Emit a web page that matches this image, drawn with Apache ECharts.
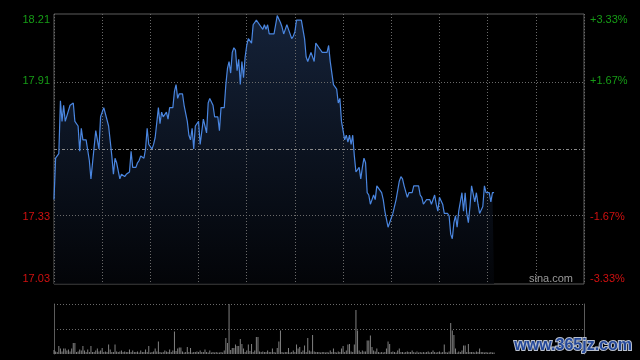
<!DOCTYPE html>
<html>
<head>
<meta charset="utf-8">
<script src="https://cdn.jsdelivr.net/npm/echarts@6/dist/echarts.min.js"></script>
<style>
html,body{margin:0;padding:0;background:#000;}
#c{width:640px;height:360px;}
</style>
</head>
<body>
<div id="c"></div>
<script>
// ---- data (minutes from open, HK session 330 minutes) ----
const prevClose = 17.62;
const tickPct = [0.0333, 0.01667, 0, -0.01667, -0.0333];
const leftTickLabels = ['18.21', '17.91', '', '17.33', '17.03'];
const rightTickLabels = ['+3.33%', '+1.67%', '', '-1.67%', '-3.33%'];

const priceTimes = [
  0,1,2,3,4,5,6,7,8,10,12,13,15,16,17,18,20,22,23,25,26,28,29,31,32,34,36,37,38,39,
  41,42,44,45,47,48,49,51,52,53,54,56,57,58,59,60,61,62,63,64,65,66,67,68,69,70,71,72,74,75,
  76,77,78,80,81,83,84,85,86,87,88,90,91,92,93,94,95,96,97,99,100,102,103,104,106,107,108,109,110,111,
  112,113,114,115,116,117,118,119,120,121,122,123,124,126,128,129,130,131,132,133,134,137,138,139,141,142,143,144,145,146,
  147,148,149,150,151,154,156,157,158,159,160,161,162,163,164,165,167,170,171,172,174,175,176,177,178,179,180,181,182,183,
  184,185,186,187,188,189,190,191,192,193,194,195,196,197,198,199,200,201,202,203,204,205,206,208,209,210,211,212,213,215,
  216,217,218,220,221,223,224,227,228,229,230,232,234,235,237,238,239,240,241,242,243,245,246,247,248,249,250,251,252,253,
  254,255,256,257,258,259,260,261,262,263,264,265,266,267,268,269,271,272,273,274
];
const prices = [
  17.40,17.58,17.59,17.60,17.83,17.74,17.81,17.74,17.74,17.81,17.82,17.74,17.72,17.61,17.71,17.66,17.66,17.57,17.49,17.63,17.70,17.62,17.76,17.80,17.80,17.72,17.59,17.51,17.58,17.56,
  17.49,17.51,17.50,17.51,17.52,17.61,17.54,17.54,17.56,17.57,17.59,17.58,17.62,17.71,17.64,17.64,17.62,17.64,17.67,17.67,17.80,17.73,17.78,17.76,17.76,17.78,17.75,17.80,17.80,17.87,
  17.90,17.84,17.86,17.86,17.81,17.74,17.68,17.66,17.71,17.62,17.72,17.74,17.64,17.64,17.75,17.72,17.69,17.82,17.84,17.81,17.76,17.76,17.70,17.80,17.80,17.90,17.97,18.00,17.95,18.04,
  18.06,18.05,17.96,18.01,17.90,18.00,17.93,18.02,18.07,18.10,18.10,18.08,18.16,18.18,18.16,18.16,18.14,18.16,18.14,18.16,18.12,18.12,18.16,18.20,18.17,18.15,18.12,18.14,18.16,18.14,
  18.14,18.10,18.11,18.13,18.18,18.18,18.10,18.02,18.00,18.00,18.04,18.04,18.00,18.08,18.07,18.06,18.04,18.04,18.07,18.00,17.90,17.89,17.88,17.82,17.84,17.74,17.74,17.66,17.68,17.65,
  17.68,17.64,17.68,17.59,17.52,17.52,17.54,17.49,17.54,17.58,17.56,17.43,17.42,17.38,17.40,17.42,17.40,17.46,17.46,17.44,17.43,17.40,17.35,17.28,17.28,17.32,17.34,17.34,17.40,17.48,
  17.50,17.49,17.46,17.41,17.43,17.43,17.46,17.46,17.42,17.41,17.38,17.40,17.40,17.38,17.42,17.38,17.35,17.41,17.41,17.38,17.34,17.34,17.33,17.25,17.23,17.30,17.33,17.28,17.35,17.35,
  17.43,17.35,17.43,17.34,17.30,17.37,17.46,17.46,17.39,17.43,17.38,17.34,17.34,17.37,17.46,17.43,17.43,17.39,17.43,17.43
];

// volume per minute (0..274), relative units, panel top = 100
const volumes = [
  8,5,4,16,11,5,11,11,7,9,
  5,11,22,22,4,5,9,7,16,7,
  4,9,4,16,4,4,7,11,5,7,
  12,4,5,4,19,9,4,4,19,5,
  4,5,7,4,5,4,4,9,4,7,
  4,4,5,3,7,4,4,9,4,16,
  3,4,5,11,5,25,4,3,4,7,
  5,4,9,4,7,45,6,11,13,13,
  5,3,4,14,4,12,3,4,4,5,
  4,7,4,4,9,4,3,7,3,4,
  3,4,3,3,4,3,7,32,22,100,
  8,12,12,19,16,16,30,20,11,4,
  7,19,6,20,4,7,34,34,5,4,
  5,4,4,7,4,4,11,4,3,12,
  25,47,4,3,4,4,12,3,4,7,
  4,19,11,14,4,7,17,4,32,7,
  5,38,5,4,4,4,3,4,4,3,
  4,3,7,4,11,4,3,5,4,11,
  16,4,7,19,20,5,4,19,88,47,
  7,4,7,5,5,27,27,37,14,7,
  5,11,4,3,4,3,4,11,25,20,
  4,5,4,3,7,11,4,4,3,4,
  5,4,4,7,4,3,5,3,4,3,
  4,3,4,5,3,4,7,4,3,4,
  5,3,4,19,4,3,5,62,47,38,
  11,3,5,4,7,17,17,4,20,4,
  4,4,3,5,4,11,4,4,3,4,
  3,3,4,3,3
];
const sessionMinutes = 330;
const volGridLevels = [50, 100];

// ---- build ----
const tickValues = tickPct.map(p => prevClose * (1 + p));
const yMin = Math.min.apply(null, tickValues);
const yMax = Math.max.apply(null, tickValues);
function tickIndex(v) {
  for (let i = 0; i < tickValues.length; i++) if (Math.abs(tickValues[i] - v) < 1e-6) return i;
  return -1;
}
const pricePairs = priceTimes.map((t, i) => [t, prices[i]]);
const volPairs = volumes.map((v, i) => [i, v]);
const GREEN = '#169c16', RED = '#d01010';
const GRIDC = '#6a6a6a', BORDER = '#5c5c5c';
const labelColor = v => (v > prevClose + 1e-6 ? GREEN : RED);

const chart = echarts.init(document.getElementById('c'), null, {renderer: 'canvas'});
chart.setOption({
  backgroundColor: '#000',
  animation: false,
  grid: [
    {left: 54, right: 56, top: 14, height: 270, show: true, borderColor: BORDER, borderWidth: 1, backgroundColor: 'transparent'},
    {left: 54, right: 56, top: 304, height: 50, show: false}
  ],
  xAxis: [
    {type: 'value', gridIndex: 0, min: 0, max: sessionMinutes, interval: 30, z: 3,
     axisLine: {show: false}, axisTick: {show: false}, axisLabel: {show: false},
     splitLine: {show: true, lineStyle: {color: GRIDC, type: [1, 2], width: 1}}},
    {type: 'value', gridIndex: 1, min: 0, max: sessionMinutes,
     axisLine: {show: false}, axisTick: {show: false}, axisLabel: {show: false}, splitLine: {show: false}}
  ],
  yAxis: [
    {type: 'value', gridIndex: 0, min: yMin, max: yMax, position: 'left',
     axisLine: {show: false}, axisTick: {show: false}, splitLine: {show: false},
     axisLabel: {show: true, customValues: tickValues, margin: 4, fontSize: 11, fontFamily: 'Arial',
       color: labelColor, verticalAlignMinLabel: 'top', verticalAlignMaxLabel: 'bottom',
       formatter: v => { const i = tickIndex(v); return i >= 0 ? leftTickLabels[i] : ''; }}},
    {type: 'value', gridIndex: 0, min: yMin, max: yMax, position: 'right',
     axisLine: {show: false}, axisTick: {show: false}, splitLine: {show: false},
     axisLabel: {show: true, customValues: tickValues, margin: 6, fontSize: 11, fontFamily: 'Arial',
       color: labelColor, verticalAlignMinLabel: 'top', verticalAlignMaxLabel: 'bottom',
       formatter: v => { const i = tickIndex(v); return i >= 0 ? rightTickLabels[i] : ''; }}},
    {type: 'value', gridIndex: 1, min: 0, max: 100, position: 'left',
     axisLine: {show: true, lineStyle: {color: BORDER, width: 1}}, axisTick: {show: false},
     axisLabel: {show: false}, splitLine: {show: false}},
    {type: 'value', gridIndex: 1, min: 0, max: 100, position: 'right',
     axisLine: {show: true, lineStyle: {color: BORDER, width: 1}}, axisTick: {show: false},
     axisLabel: {show: false}, splitLine: {show: false}}
  ],
  series: [
    {type: 'line', name: 'area', xAxisIndex: 0, yAxisIndex: 0, data: pricePairs, showSymbol: false, z: 1,
     lineStyle: {width: 0, opacity: 0}, silent: true,
     areaStyle: {origin: 'start', color: new echarts.graphic.LinearGradient(0, 0, 0, 1, [
       {offset: 0, color: '#1d3050'}, {offset: 1, color: '#04060b'}])}},
    {type: 'line', name: 'grid', xAxisIndex: 0, yAxisIndex: 0, data: [], z: 3, silent: true,
     markLine: {silent: true, symbol: ['none', 'none'], label: {show: false}, animation: false,
       data: [
         {yAxis: tickValues[1], lineStyle: {color: GRIDC, type: [1, 2], width: 1}},
         {yAxis: tickValues[3], lineStyle: {color: GRIDC, type: [1, 2], width: 1}},
         {yAxis: tickValues[2], lineStyle: {color: '#8a8a8a', type: [3, 2, 1, 2], width: 1}}
       ]}},
    {type: 'line', name: 'price', xAxisIndex: 0, yAxisIndex: 0, data: pricePairs, showSymbol: false, z: 5,
     lineStyle: {color: '#4a86e0', width: 1.2}},
    {type: 'bar', name: 'vol', xAxisIndex: 1, yAxisIndex: 2, data: volPairs, barWidth: 1,
     itemStyle: {color: '#808080'}, z: 2,
     markLine: {silent: true, symbol: ['none', 'none'], label: {show: false}, animation: false,
       data: volGridLevels.map(v => ({yAxis: v, lineStyle: {color: GRIDC, type: [1, 2], width: 1}}))}}
  ],
  graphic: [
    {type: 'text', right: 67, top: 273, z: 10,
     style: {text: 'sina.com', fill: '#9a9a9a', font: '11px Arial'}},
    {type: 'text', right: 7, top: 337, z: 10,
     style: {text: 'www.365jz.com', fill: '#24489a', stroke: '#b8bfcc', lineWidth: 2,
       font: 'bold 16px Arial'}}
  ]
});
</script>
</body>
</html>
